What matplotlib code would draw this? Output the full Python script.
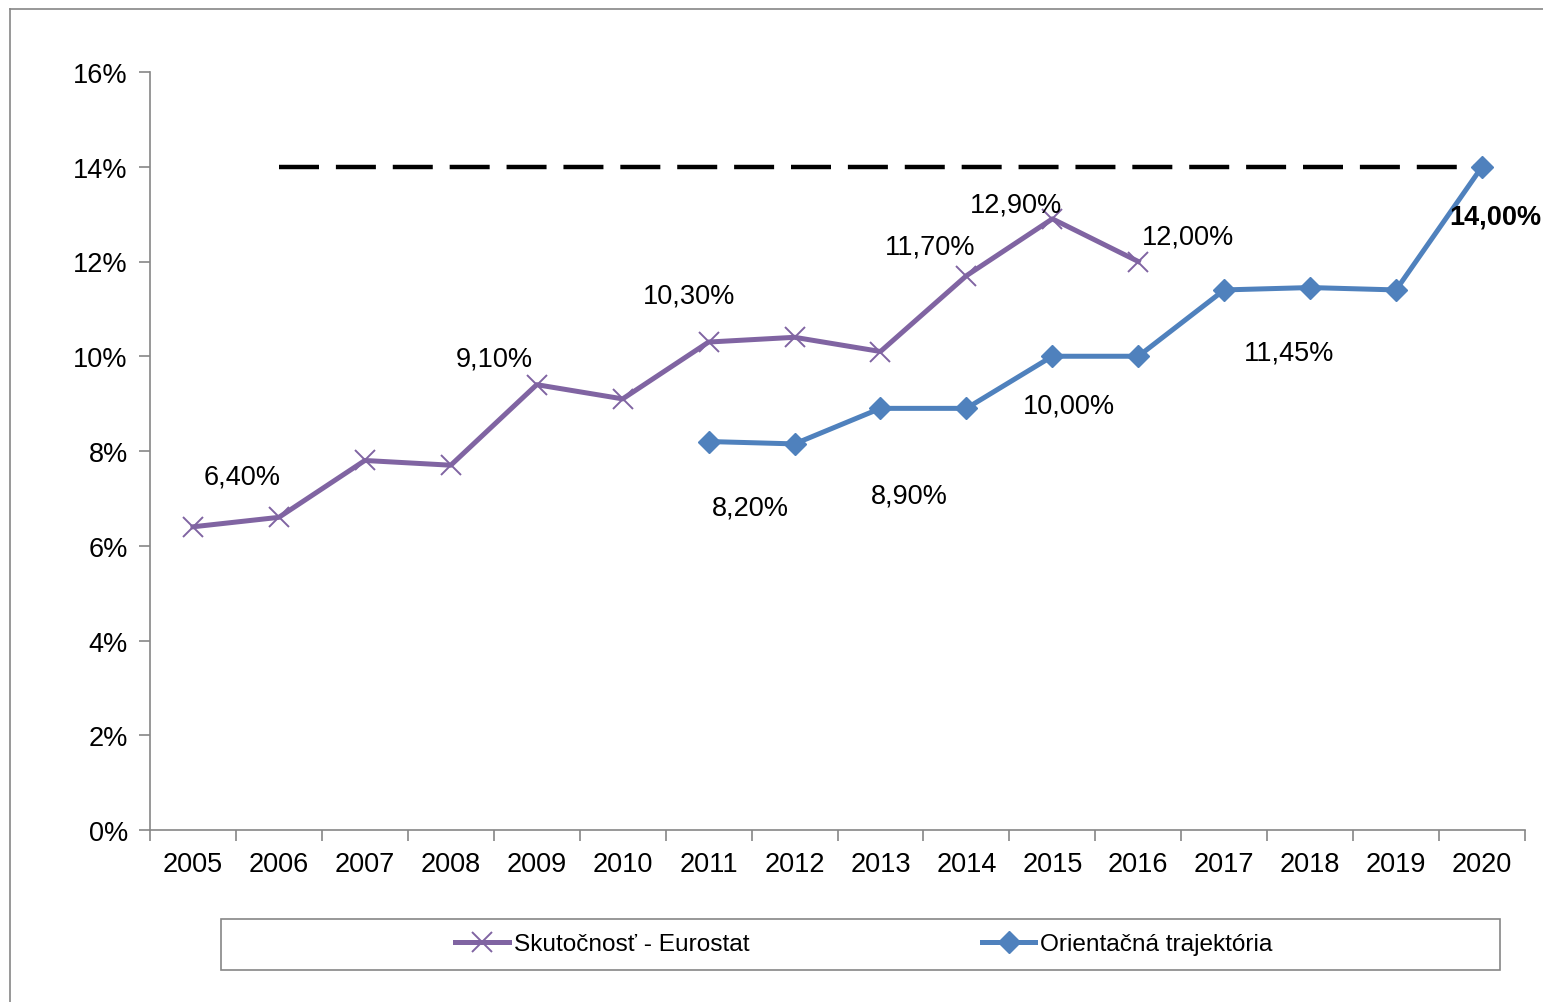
import matplotlib
matplotlib.use("Agg")
import matplotlib.pyplot as plt
from matplotlib.lines import Line2D
from matplotlib.patches import Rectangle

plt.rcParams['font.family'] = ['Liberation Sans', 'DejaVu Sans']

YEARS = [str(y) for y in range(2005, 2021)]

# Skutocnost - Eurostat (%), 2005-2016
ACTUAL = [6.4, 6.6, 7.8, 7.7, 9.4, 9.1, 10.3, 10.4, 10.1, 11.7, 12.9, 12.0]
# Orientacna trajektoria (%), 2011-2020
PATH_START = 6
PATH = [8.2, 8.15, 8.9, 8.9, 10.0, 10.0, 11.4, 11.45, 11.4, 14.0]
# target line 14 % from 2006 to 2020
TARGET = 14.0
TARGET_FROM, TARGET_TO = 1, 15

ACTUAL_LABELS = ['6,40%', '9,10%', '10,30%', '11,70%', '12,90%', '12,00%']
PATH_LABELS = ['8,20%', '8,90%', '10,00%', '11,45%', '14,00%']

# label anchor spots (category index, value) - placed by hand like in Excel
ACTUAL_LABEL_POS = [(0.57, 7.47), (3.51, 9.96), (5.77, 11.29),
                    (8.58, 12.31), (9.58, 13.21), (11.58, 12.52)]
PATH_LABEL_POS = [(6.49, 6.80), (8.34, 7.07), (10.19, 8.95),
                  (12.76, 10.07), (14.62, 12.96)]

PURPLE = '#8064A2'
BLUE = '#4F81BD'
GREY = '#868686'
FS = 19.5

W, H = 1543, 1003
fig = plt.figure(figsize=(W / 100, H / 100), dpi=100)
ax = fig.add_axes([150 / W, 1 - 831 / H, (1525 - 150) / W, (831 - 73) / H])

ax.plot([TARGET_FROM, TARGET_TO], [TARGET, TARGET], color='black', lw=3.2,
        dashes=(9, 3.8), dash_capstyle='butt', zorder=2)

xa = list(range(len(ACTUAL)))
ax.plot(xa, ACTUAL, color=PURPLE, lw=3.6, marker='x', markersize=14,
        markeredgewidth=1.4, label='Skutočnosť - Eurostat', zorder=3)
xp = list(range(PATH_START, PATH_START + len(PATH)))
ax.plot(xp, PATH, color=BLUE, lw=3.6, marker='D', markersize=11,
        label='Orientačná trajektória', zorder=3)

for txt, (x, y) in zip(ACTUAL_LABELS, ACTUAL_LABEL_POS):
    ax.text(x, y, txt, ha='center', va='center', fontsize=FS, clip_on=False)
for i, (txt, (x, y)) in enumerate(zip(PATH_LABELS, PATH_LABEL_POS)):
    bold = i == len(PATH_LABELS) - 1
    ax.text(x, y, txt, ha='left' if bold else 'center', va='center',
            fontsize=FS, fontweight='bold' if bold else 'normal', clip_on=False)

ax.set_xlim(-0.5, len(YEARS) - 0.5)
ax.set_ylim(0, 16)
ax.set_yticks(range(0, 17, 2))
ax.set_yticklabels([f'{v}%' for v in range(0, 17, 2)], fontsize=FS)
ax.set_xticks(range(len(YEARS)))
ax.set_xticklabels(YEARS, fontsize=FS)
ax.set_xticks([i - 0.5 for i in range(len(YEARS) + 1)], minor=True)
ax.tick_params(axis='x', which='major', length=0, pad=15)
ax.tick_params(axis='x', which='minor', length=8, color=GREY, width=1.2)
ax.tick_params(axis='y', length=8, color=GREY, width=1.2, pad=8)
for s in ('top', 'right'):
    ax.spines[s].set_visible(False)
for s in ('left', 'bottom'):
    ax.spines[s].set_color(GREY)
    ax.spines[s].set_linewidth(1.2)

# legend without frame, box drawn separately
fig.legend(ncol=2, loc='center', bbox_to_anchor=(864 / W, 1 - 945 / H),
           frameon=False, fontsize=17.6, handlelength=2.2, handletextpad=0.2,
           columnspacing=9.5)
fig.patches.append(Rectangle((221 / W, 1 - 971 / H), 1279 / W, 51 / H,
                             transform=fig.transFigure, fill=False,
                             edgecolor=GREY, lw=1.2))

# outer chart frame (cut at right and bottom)
fig.lines.append(Line2D([10 / W, 10 / W], [0, 1 - 10 / H],
                        transform=fig.transFigure, color=GREY, lw=1.2))
fig.lines.append(Line2D([10 / W, 1], [1 - 10 / H, 1 - 10 / H],
                        transform=fig.transFigure, color=GREY, lw=1.2))

fig.savefig('out.png', dpi=100)
